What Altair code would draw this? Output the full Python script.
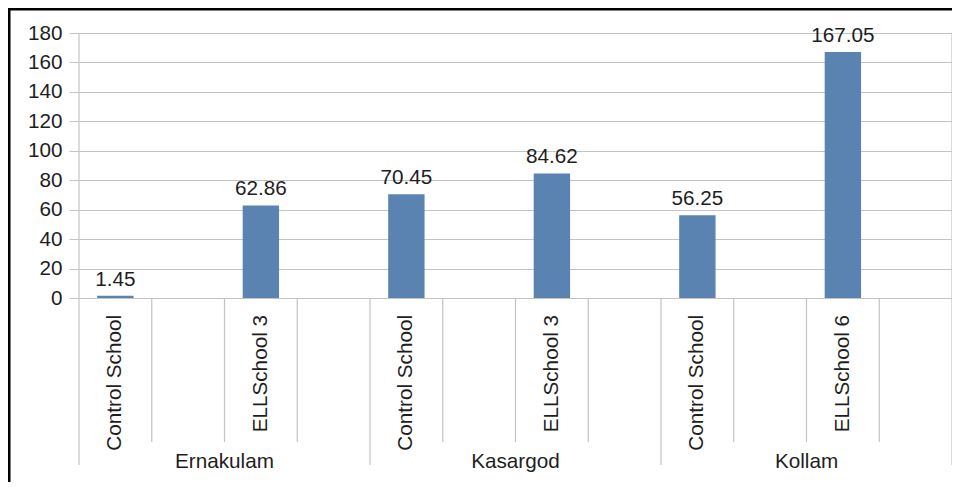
import altair as alt
import pandas as pd

# ---- data ----
districts = ["Ernakulam", "Kasargod", "Kollam"]
bar_district = ["Ernakulam", "Ernakulam", "Kasargod", "Kasargod", "Kollam", "Kollam"]
schools = ["Control School", "ELLSchool 3", "Control School", "ELLSchool 3",
           "Control School", "ELLSchool 6"]
values = [1.45, 62.86, 70.45, 84.62, 56.25, 167.05]
value_labels = ["1.45", "62.86", "70.45", "84.62", "56.25", "167.05"]
y_ticks = [0, 20, 40, 60, 80, 100, 120, 140, 160, 180]

# each school occupies one category slot followed by an empty slot
SLOTS_PER_BAR = 2
n_slots = len(schools) * SLOTS_PER_BAR
slots_per_group = n_slots // len(districts)

bars = pd.DataFrame({
    "district": bar_district,
    "school": schools,
    "value": values,
    "label": value_labels,
})
bars["slot"] = [i * SLOTS_PER_BAR for i in range(len(schools))]
bars["x0"] = bars["slot"] + 0.25
bars["x1"] = bars["slot"] + 0.75
bars["xc"] = bars["slot"] + 0.5

groups = pd.DataFrame({"district": districts})
groups["xc"] = [g * slots_per_group + slots_per_group / 2 for g in range(len(districts))]

borders = pd.DataFrame({"pos": [0, n_slots]})
group_seps = pd.DataFrame({"pos": [g * slots_per_group for g in range(1, len(districts))]})
sub_seps = pd.DataFrame({"pos": [p for p in range(1, n_slots) if p % slots_per_group != 0]})
one_row = pd.DataFrame({"k": [1]})

W, H = 873, 265
FONT = "Liberation Sans"
FS = 20.7
TXT = "#1e1e1e"
GRID = "#c3c3c3"

xs = alt.Scale(domain=[0, n_slots], nice=False, zero=False)
ys = alt.Scale(domain=[0, 180], nice=False)
y_axis = alt.Axis(
    values=y_ticks, tickCount=len(y_ticks), title=None, grid=True,
    gridColor=GRID, gridWidth=1, domain=False, tickSize=10, tickColor=GRID,
    tickWidth=1, labelOverlap=False, labelFont=FONT, labelFontSize=FS,
    labelColor=TXT, labelPadding=7)

bar_layer = alt.Chart(bars).mark_bar(color="#5a83b1").encode(
    x=alt.X("x0:Q", scale=xs, axis=None),
    x2="x1:Q",
    y=alt.Y("value:Q", scale=ys, stack=None, axis=y_axis),
    y2=alt.datum(0),
)

bar_text = alt.Chart(bars).mark_text(
    font=FONT, fontSize=FS, color=TXT, baseline="alphabetic", dy=-10
).encode(
    x=alt.X("xc:Q", scale=xs, axis=None),
    y=alt.Y("value:Q", scale=ys, axis=y_axis),
    text="label:N",
)

school_text = alt.Chart(bars).mark_text(
    font=FONT, fontSize=FS, color=TXT, angle=270, align="right", baseline="middle"
).encode(
    x=alt.X("xc:Q", scale=xs, axis=None),
    y=alt.value(H + 17),
    text="school:N",
)

group_text = alt.Chart(groups).mark_text(
    font=FONT, fontSize=FS, color=TXT, align="center", baseline="alphabetic"
).encode(
    x=alt.X("xc:Q", scale=xs, axis=None),
    y=alt.value(H + 170),
    text="district:N",
)

border_rules = alt.Chart(borders).mark_rule(color=GRID, strokeWidth=1.2).encode(
    x=alt.X("pos:Q", scale=xs, axis=None), y=alt.value(0), y2=alt.value(H + 167))
group_rules = alt.Chart(group_seps).mark_rule(color=GRID, strokeWidth=1.2).encode(
    x=alt.X("pos:Q", scale=xs, axis=None), y=alt.value(H), y2=alt.value(H + 167))
sub_rules = alt.Chart(sub_seps).mark_rule(color=GRID, strokeWidth=1.2).encode(
    x=alt.X("pos:Q", scale=xs, axis=None), y=alt.value(H), y2=alt.value(H + 144))

frame_top = alt.Chart(one_row).mark_rule(color="black", strokeWidth=3).encode(
    x=alt.value(-72), x2=alt.value(W + 20), y=alt.value(-24))
frame_left = alt.Chart(one_row).mark_rule(color="black", strokeWidth=3).encode(
    x=alt.value(-70), y=alt.value(-25), y2=alt.value(H + 200))

chart = alt.layer(
    border_rules, group_rules, sub_rules,
    bar_layer, bar_text, school_text, group_text,
    frame_top, frame_left,
).properties(
    width=W, height=H,
    autosize=alt.AutoSizeParams(type="none"),
    padding={"left": 71, "top": 25, "right": 0, "bottom": 184},
    background="white",
).configure_view(strokeWidth=0)

chart.save("out.html", embed_options={"renderer": "svg", "actions": False})
